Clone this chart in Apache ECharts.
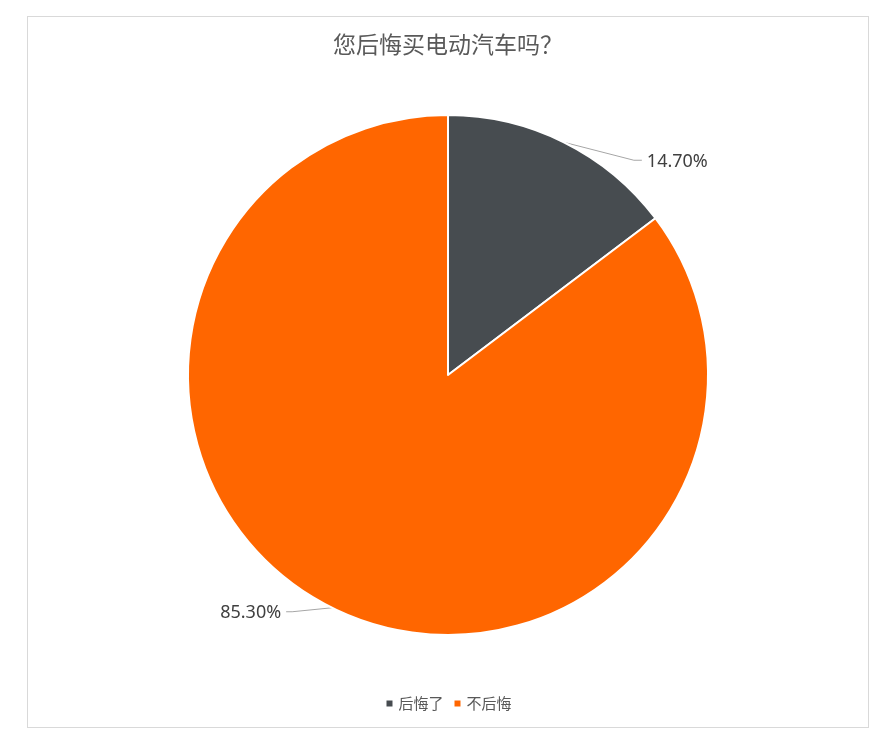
<!DOCTYPE html>
<html>
<head>
<meta charset="utf-8">
<script src="https://cdn.jsdelivr.net/npm/echarts@6/dist/echarts.min.js"></script>
<style>
  html, body { margin: 0; padding: 0; background: #fff; }
  #chart {
    position: absolute;
    left: 27px;
    top: 16px;
    width: 840px;
    height: 710px;
    border: 1px solid #d9d9d9;
  }
</style>
</head>
<body>
<div id="chart"></div>
<script>
const title = '您后悔买电动汽车吗？';
const categories = ['后悔了', '不后悔'];
const values = [14.7, 85.3];
const colors = ['#474c50', '#ff6600'];

const myChart = echarts.init(document.getElementById('chart'));
myChart.setOption({
  animation: false,
  title: {
    text: title,
    left: 'center',
    top: 11,
    textStyle: {
      fontSize: 23,
      fontWeight: 'normal',
      color: '#595959',
      fontFamily: 'Noto Sans CJK SC',
    },
  },
  legend: {
    bottom: 11,
    left: 'center',
    icon: 'rect',
    itemWidth: 8,
    itemHeight: 8,
    itemGap: 9,
    textStyle: {
      fontSize: 15,
      color: '#595959',
      fontFamily: 'Noto Sans CJK SC',
    },
    data: categories,
  },
  color: colors,
  series: [
    {
      type: 'pie',
      center: [420, 358],
      radius: 260,
      startAngle: 90,
      clockwise: true,
      itemStyle: {
        borderColor: '#fff',
        borderWidth: 2,
      },
      label: {
        show: true,
        formatter: (p) => p.value.toFixed(2) + '%',
        fontSize: 18,
        color: '#404040',
        fontFamily: 'Noto Sans',
      },
      labelLine: {
        show: true,
        length: 6,
        length2: 40,
        lineStyle: { color: '#a6a6a6', width: 1 },
      },
      // Excel 风格的引导线：从扇区边缘斜着拉出去，再接一小段水平线
      labelLayout: (params) => {
        const p0 = params.labelLinePoints[0];
        if (params.dataIndex === 0) {
          return {
            x: p0[0] + 83,
            y: p0[1] + 20,
            labelLinePoints: [p0, [p0[0] + 70, p0[1] + 18], [p0[0] + 78, p0[1] + 18]],
          };
        }
        return {
          x: p0[0] - 51,
          y: p0[1] + 5,
          labelLinePoints: [p0, [p0[0] - 40, p0[1] + 4], [p0[0] - 46, p0[1] + 4]],
        };
      },
      data: categories.map((name, i) => ({ name, value: values[i] })),
    },
  ],
});
</script>
</body>
</html>
